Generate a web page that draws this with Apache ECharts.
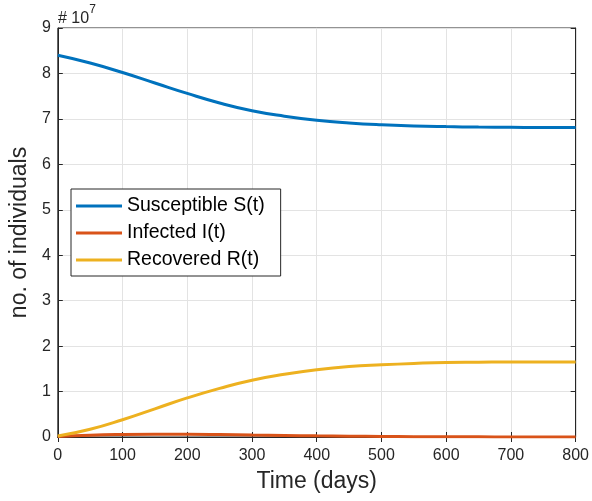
<!DOCTYPE html>
<html>
<head>
<meta charset="utf-8">
<script src="https://cdn.jsdelivr.net/npm/echarts@6/dist/echarts.min.js"></script>
<style>
  html, body { margin: 0; padding: 0; background: #fff; }
  #chart { width: 592px; height: 501px; }
</style>
</head>
<body>
<div id="chart"></div>
<script>
// values in units of 10^7 individuals
var days = [0, 50, 100, 150, 200, 250, 300, 350, 400, 450, 500, 550, 600, 650, 700, 750, 800];
var susceptible = [8.40, 8.23, 8.02, 7.79, 7.56, 7.35, 7.18, 7.06, 6.97, 6.91, 6.87, 6.845, 6.83, 6.82, 6.815, 6.81, 6.81];
var infected = [0.01, 0.04, 0.055, 0.06, 0.06, 0.055, 0.045, 0.035, 0.025, 0.018, 0.012, 0.008, 0.005, 0.003, 0.002, 0.001, 0.001];
var recovered = [0.02, 0.17, 0.38, 0.62, 0.86, 1.07, 1.25, 1.38, 1.48, 1.55, 1.59, 1.62, 1.64, 1.645, 1.65, 1.65, 1.65];

function pairs(ys) {
    return days.map(function (d, i) { return [d, ys[i]]; });
}

var myChart = echarts.init(document.getElementById('chart'));
var axisText = '#262626';
var option = {
    animation: false,
    textStyle: { fontFamily: 'Liberation Sans, Arial, sans-serif' },
    grid: {
        left: 57,
        top: 28,
        right: 13,
        bottom: 64,
        show: true,
        borderColor: axisText,
        borderWidth: 1
    },
    legend: {
        orient: 'vertical',
        left: 71,
        top: 189,
        backgroundColor: '#fff',
        borderColor: axisText,
        borderWidth: 1,
        padding: [7, 16, 6, 5],
        itemWidth: 46,
        itemHeight: 18,
        itemGap: 7,
        icon: 'path://M0,7.5 L46,7.5 L46,10.5 L0,10.5 Z',
        textStyle: { fontSize: 19.5, color: '#000' },
        data: ['Susceptible S(t)', 'Infected I(t)', 'Recovered R(t)']
    },
    graphic: [{
        type: 'text',
        left: 58,
        top: 4,
        style: {
            text: '{a|# 10}{b|7}',
            rich: {
                a: { fontSize: 16, fill: axisText, fontFamily: 'Liberation Sans', padding: [7, 0, 0, 0] },
                b: { fontSize: 12, fill: axisText, fontFamily: 'Liberation Sans', verticalAlign: 'top' }
            }
        }
    }],
    xAxis: [{
        type: 'value',
        min: 0,
        max: 800,
        interval: 100,
        name: 'Time (days)',
        nameLocation: 'middle',
        nameGap: 33,
        nameTextStyle: { fontSize: 23, color: axisText },
        axisLine: { lineStyle: { color: axisText } },
        axisTick: { inside: true, length: 5, lineStyle: { color: axisText } },
        axisLabel: { fontSize: 16, color: axisText, margin: 11 },
        splitLine: { show: true, lineStyle: { color: '#e3e3e3' } }
    }, {
        type: 'value',
        position: 'top',
        min: 0,
        max: 800,
        interval: 100,
        axisLine: { lineStyle: { color: axisText } },
        axisTick: { inside: true, length: 5, lineStyle: { color: axisText } },
        axisLabel: { show: false },
        splitLine: { show: false }
    }],
    yAxis: [{
        type: 'value',
        min: 0,
        max: 9,
        interval: 1,
        name: 'no. of individuals',
        nameLocation: 'middle',
        nameGap: 20,
        nameTextStyle: { fontSize: 23, color: axisText },
        axisLine: { show: true, onZero: false, lineStyle: { color: axisText } },
        axisTick: { show: true, inside: true, length: 5, lineStyle: { color: axisText } },
        axisLabel: { fontSize: 16, color: axisText, margin: 7 },
        splitLine: { show: true, lineStyle: { color: '#e3e3e3' } }
    }, {
        type: 'value',
        position: 'right',
        min: 0,
        max: 9,
        interval: 1,
        axisLine: { show: true, onZero: false, lineStyle: { color: axisText } },
        axisTick: { show: true, inside: true, length: 5, lineStyle: { color: axisText } },
        axisLabel: { show: false },
        splitLine: { show: false }
    }],
    series: [{
        name: 'Susceptible S(t)',
        type: 'line',
        data: pairs(susceptible),
        smooth: true,
        symbol: 'none',
        lineStyle: { width: 3, color: '#0072BD' },
        itemStyle: { color: '#0072BD' }
    }, {
        name: 'Infected I(t)',
        type: 'line',
        data: pairs(infected),
        smooth: true,
        symbol: 'none',
        lineStyle: { width: 3, color: '#D95319' },
        itemStyle: { color: '#D95319' }
    }, {
        name: 'Recovered R(t)',
        type: 'line',
        data: pairs(recovered),
        smooth: true,
        symbol: 'none',
        lineStyle: { width: 3, color: '#EDB120' },
        itemStyle: { color: '#EDB120' }
    }]
};
myChart.setOption(option);
window.addEventListener("resize", function () {
    myChart.resize();
});
</script>
</body>
</html>
